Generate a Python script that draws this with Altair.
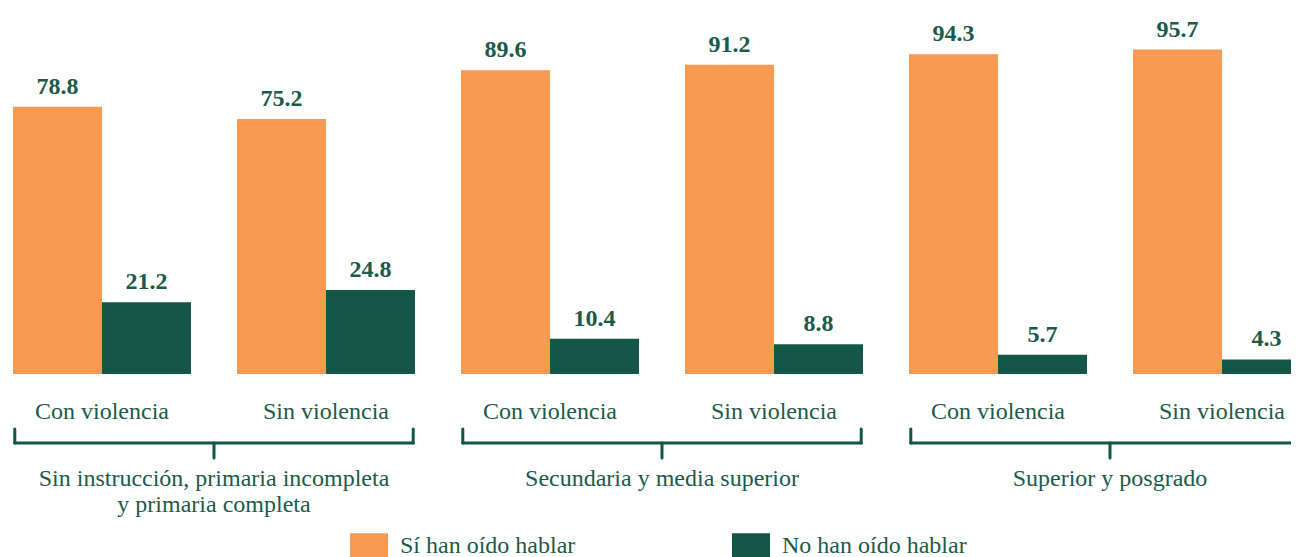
import altair as alt
import pandas as pd

# ---- data ----
groups = ["Sin instrucción, primaria incompleta\ny primaria completa",
          "Secundaria y media superior",
          "Superior y posgrado"]
subgroups = ["Con violencia", "Sin violencia"]
series = ["Sí han oído hablar", "No han oído hablar"]
si_values = [78.8, 75.2, 89.6, 91.2, 94.3, 95.7]
no_values = [21.2, 24.8, 10.4, 8.8, 5.7, 4.3]

ORANGE = "#F79B53"
GREEN = "#145746"
TEXT = "#1B5B4A"
FONT = "Liberation Serif"

keys = []
sub_rows = []
for gi, g in enumerate(groups):
    for s in subgroups:
        k = f"{gi}|{s}"
        keys.append(k)
        sub_rows.append({"key": k, "sub": s})

bar_rows = []
for i, k in enumerate(keys):
    bar_rows.append({"key": k, "serie": series[0], "value": si_values[i]})
    bar_rows.append({"key": k, "serie": series[1], "value": no_values[i]})

brace_rows = []
for gi, g in enumerate(groups):
    brace_rows.append({"start": keys[2 * gi], "end": keys[2 * gi + 1],
                       "group": g.split("\n")})

bars_df = pd.DataFrame(bar_rows)
subs_df = pd.DataFrame(sub_rows)
brace_df = pd.DataFrame(brace_rows)

xscale = alt.Scale(domain=keys, range=[5, 1303], paddingInner=0.2054, paddingOuter=0)
yscale = alt.Scale(domain=[0, 100], range=[366, 27], nice=False, zero=True)
offscale = alt.Scale(domain=series, paddingInner=0, paddingOuter=0)

color = alt.Color(
    "serie:N",
    scale=alt.Scale(domain=series, range=[ORANGE, GREEN]),
    legend=alt.Legend(
        title=None, orient="none", legendX=342, legendY=518.5,
        direction="horizontal", symbolType="M-1,-0.66H1V0.66H-1Z",
        symbolSize=1444, symbolStrokeWidth=0, labelOffset=12,
        columnPadding=156, labelFont=FONT, labelFontSize=24,
        labelColor=TEXT, padding=0, labelLimit=400,
    ),
    sort=series,
)

base_bars = alt.Chart(bars_df)

bars = base_bars.mark_bar(clip=True).encode(
    x=alt.X("key:N", scale=xscale, axis=None, sort=keys),
    xOffset=alt.XOffset("serie:N", scale=offscale, sort=series),
    y=alt.Y("value:Q", scale=yscale, axis=None),
    color=color,
)

value_labels = base_bars.mark_text(
    font=FONT, fontSize=24, fontWeight="bold", color=TEXT,
    baseline="alphabetic", dy=-13,
).encode(
    x=alt.X("key:N", scale=xscale, axis=None, sort=keys),
    xOffset=alt.XOffset("serie:N", scale=offscale, sort=series),
    y=alt.Y("value:Q", scale=yscale, axis=None),
    text=alt.Text("value:Q", format=".1f"),
)

sub_labels = alt.Chart(subs_df).mark_text(
    font=FONT, fontSize=24, color=TEXT, baseline="alphabetic",
).encode(
    x=alt.X("key:N", scale=xscale, axis=None),
    y=alt.value(411),
    text="sub:N",
)

bc = alt.Chart(brace_df)
stroke = dict(color=GREEN, strokeWidth=3, strokeCap="round", clip=True)

brace_h = bc.mark_rule(**stroke).encode(
    x=alt.X("start:N", scale=xscale, axis=None, bandPosition=0.01),
    x2=alt.X2("end:N", bandPosition=0.99),
    y=alt.value(435),
)
brace_l = bc.mark_rule(**stroke).encode(
    x=alt.X("start:N", scale=xscale, axis=None, bandPosition=0.01),
    y=alt.value(421), y2=alt.value(435),
)
brace_r = bc.mark_rule(**stroke).encode(
    x=alt.X("end:N", scale=xscale, axis=None, bandPosition=0.99),
    y=alt.value(421), y2=alt.value(435),
)
brace_tip = bc.mark_rule(xOffset=23, **stroke).encode(
    x=alt.X("start:N", scale=xscale, axis=None, bandPosition=1),
    y=alt.value(435), y2=alt.value(450),
)
group_labels = bc.mark_text(
    font=FONT, fontSize=24, color=TEXT, baseline="alphabetic", lineHeight=26,
    dx=23,
).encode(
    x=alt.X("start:N", scale=xscale, axis=None, bandPosition=1),
    y=alt.value(478),
    text="group:N",
)

chart = alt.layer(
    bars, value_labels, sub_labels, brace_h, brace_l, brace_r, brace_tip, group_labels
).properties(
    width=1283, height=549,
    autosize=alt.AutoSizeParams(type="none"),
    padding=0,
).configure_view(stroke=None)

chart.save("out.html", embed_options={"renderer": "svg", "actions": False})
